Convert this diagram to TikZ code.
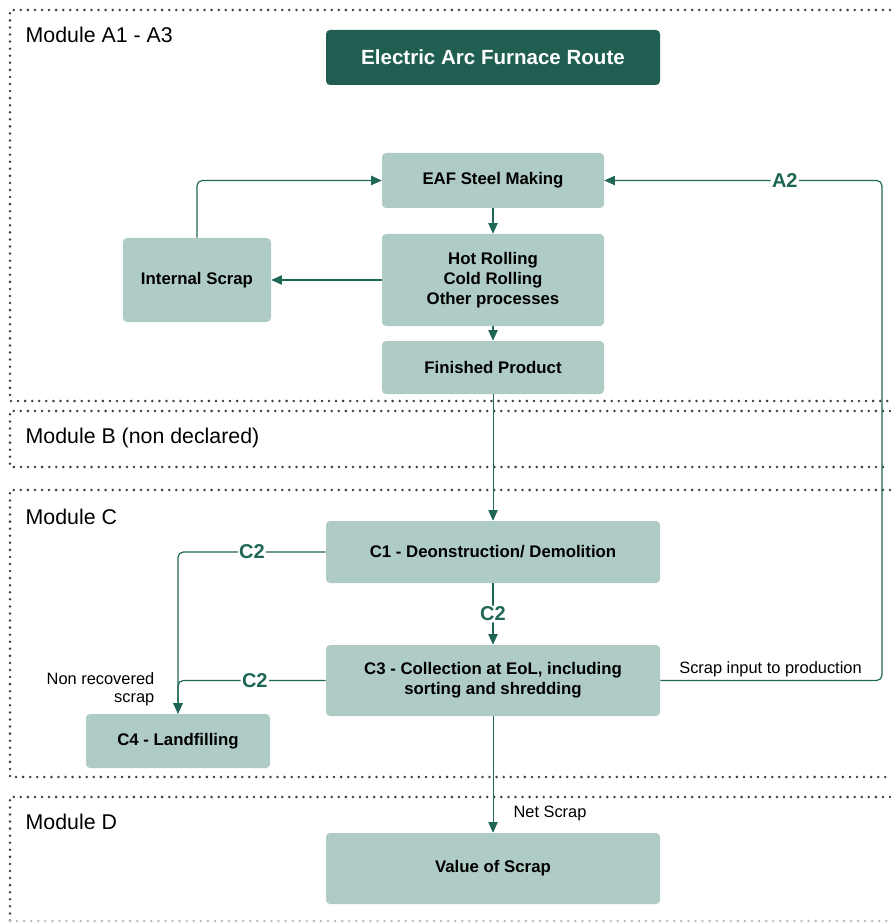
\documentclass[tikz,border=0pt]{standalone}
\usepackage{fontspec}
\setmainfont{Liberation Sans}
\usetikzlibrary{arrows.meta}
\definecolor{boxfill}{HTML}{AECBC6}
\definecolor{headfill}{HTML}{1F5E50}
\definecolor{flowteal}{HTML}{1E6655}
\definecolor{dotgray}{HTML}{3A3F47}
\tikzset{
	>={Triangle[length=8pt,width=7pt]},
	procbox/.style={
		rectangle,
		rounded corners=3pt,
		fill=boxfill,
		inner sep=0pt,
		align=center,
		font=\bfseries\fontsize{12.6}{15}\selectfont},
	headbox/.style={procbox, fill=headfill, text=white,
		font=\bfseries\fontsize{15.4}{18}\selectfont},
	modframe/.style={draw=dotgray, line width=2.1pt, line cap=round,
		dash pattern=on 0pt off 5.3pt},
	modlabel/.style={anchor=base west, font=\fontsize{16}{19}\selectfont},
	flowline/.style={draw=flowteal, line width=0.9pt, rounded corners=4pt},
	thinline/.style={draw=flowteal, line width=0.6pt},
	flowlabel/.style={fill=white, inner sep=1pt, text=flowteal,
		font=\bfseries\fontsize{15}{18}\selectfont},
	notetext/.style={font=\fontsize{12.3}{13.5}\selectfont},
}
\begin{document}
\begin{tikzpicture}[x=0.75pt, y=-0.75pt]
\useasboundingbox (0,0) rectangle (890,923);
% module frames
\foreach \top/\bot in {10/401, 411/467, 490/777}
	\draw[modframe] (890,\top) -| (10,\bot) -- (890,\bot);
\draw[modframe] (890,797) -| (10,921);
\draw[modframe, draw=dotgray!35] (10,921) -- (890,921);
\node[modlabel] (moda) at (21,43) {Module A1 - A3};
\node[modlabel] (modb) at (21,443) {Module B (non declared)};
\node[modlabel] (modc) at (21,524) {Module C};
\node[modlabel] (modd) at (21,829) {Module D};
% boxes
\node[headbox, minimum width=250.5pt, minimum height=41.25pt] (route) at (493,57.5) {Electric Arc Furnace Route};
\node[procbox, minimum width=166.5pt, minimum height=41.25pt] (eaf) at (493,180.5) {EAF Steel Making};
\node[procbox, minimum width=166.5pt, minimum height=69pt] (roll) at (493,280) {Hot Rolling\\Cold Rolling\\Other processes};
\node[procbox, minimum width=166.5pt, minimum height=39.75pt] (fin) at (493,367.5) {Finished Product};
\node[procbox, minimum width=111pt, minimum height=63pt] (intscrap) at (197,280) {Internal Scrap};
\node[procbox, minimum width=250.5pt, minimum height=46.5pt] (demol) at (493,552) {C1 - Deonstruction/ Demolition};
\node[procbox, minimum width=250.5pt, minimum height=53.25pt] (collect) at (493,680.5) {C3 - Collection at EoL, including\\sorting and shredding};
\node[procbox, minimum width=138pt, minimum height=40.5pt] (landfill) at (178,741) {C4 - Landfilling};
\node[procbox, minimum width=250.5pt, minimum height=53.25pt] (value) at (493,868.5) {Value of Scrap};
\coordinate (rail) at (882,0);
% connectors
\draw[flowline,->] (eaf) -- (roll);
\draw[flowline,->] (roll) -- (fin);
\draw[flowline,->] (roll.west) -- (intscrap.east);
\draw[flowline,->] (intscrap.north) |- (eaf.west);
\draw[thinline,->] (fin) -- (demol);
\draw[flowline,->] (demol) -- node[flowlabel] (c2mid) {C2} (collect);
\draw[flowline,->] (demol.west) -| node[flowlabel, pos=0.25] (c2top) {C2} (landfill.north);
\draw[flowline,->] (collect.west) -| node[flowlabel, pos=0.24] (c2low) {C2} (landfill.north);
\draw[flowline,->] (collect.east) -- (collect.east -| rail) -- (eaf.east -| rail)
	-- node[flowlabel, pos=0.35] (a2) {A2} (eaf.east);
\draw[thinline,->] (collect) -- (value);
% side notes
\node[notetext, anchor=base] (scrapin) at (770.5,673) {Scrap input to production};
\node[notetext, anchor=east, align=right] (nonrec) at (159,689) {Non recovered\\scrap};
\node[notetext] (netscrap) at (550,813) {Net Scrap};
\end{tikzpicture}
\end{document}
